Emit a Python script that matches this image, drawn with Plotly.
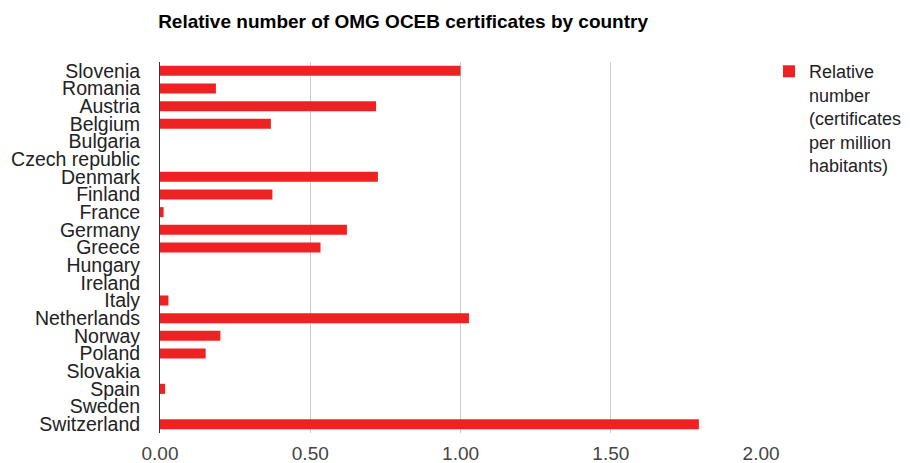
import plotly.graph_objects as go

countries = ["Slovenia", "Romania", "Austria", "Belgium", "Bulgaria", "Czech republic",
             "Denmark", "Finland", "France", "Germany", "Greece", "Hungary", "Ireland",
             "Italy", "Netherlands", "Norway", "Poland", "Slovakia", "Spain", "Sweden",
             "Switzerland"]
values = [1.00, 0.186, 0.719, 0.369, 0.0, 0.0,
          0.725, 0.374, 0.012, 0.622, 0.534, 0.0, 0.0,
          0.028, 1.028, 0.201, 0.152, 0.0, 0.017, 0.0,
          1.793]
series_name = "Relative<br>number<br>(certificates<br>per million<br>habitants)"
x_ticks = [0, 0.5, 1.0, 1.5, 2.0]
x_tick_labels = ["0.00", "0.50", "1.00", "1.50", "2.00"]

fig = go.Figure()
fig.add_trace(go.Bar(
    y=countries, x=values, orientation="h", name=series_name,
    marker=dict(color="#ee2222", line=dict(width=0)),
    showlegend=True,
))

fig.update_layout(
    width=902, height=455,
    paper_bgcolor="white", plot_bgcolor="white",
    margin=dict(l=152, r=148, t=54, b=30, pad=0, autoexpand=False),
    bargap=0.43,
    font=dict(family="Liberation Sans, Arial, sans-serif", size=19, color="#222222"),
    title=dict(text="<b>Relative number of OMG OCEB certificates by country</b>",
               x=0.438, xanchor="center", y=0.9714, yanchor="middle",
               font=dict(size=19, color="#000000")),
    xaxis=dict(range=[0, 2.003], tickmode="array", tickvals=x_ticks, ticktext=x_tick_labels,
               showgrid=True, gridcolor="#cccccc", gridwidth=1,
               zeroline=False, showline=False, automargin=False,
               tickfont=dict(size=19, color="#444444"), ticks="", ticklabelstandoff=7),
    yaxis=dict(categoryorder="array", categoryarray=countries,
               tickmode="array", tickvals=countries, ticktext=countries,
               autorange=False, range=[20.5, -0.5], automargin=False,
               showgrid=False, zeroline=False, showline=True, linecolor="#333333", linewidth=1,
               ticks="", ticklabelstandoff=15,
               tickfont=dict(size=19.5, color="#222222")),
    legend=dict(x=1.0116, xanchor="left", y=1.024, yanchor="top", valign="top",
                font=dict(size=18, color="#222222"), bgcolor="rgba(0,0,0,0)",
                tracegroupgap=0),
)

fig.write_html("out.html")
